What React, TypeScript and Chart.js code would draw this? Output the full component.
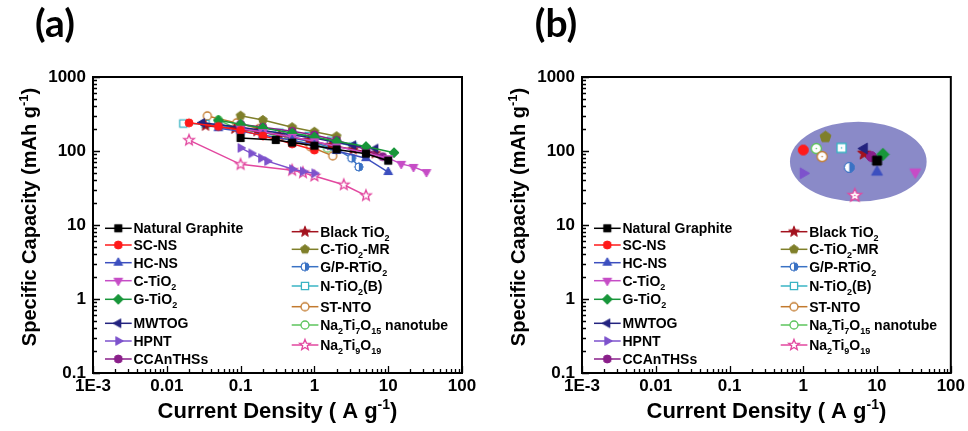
import React, { useEffect, useRef } from 'react';
import { Chart, registerables } from 'chart.js';

Chart.register(...registerables);

// ---------------- axes ----------------
const xMajorTicks = [0.001, 0.01, 0.1, 1, 10, 100];
const xTickLabels = ['1E-3', '0.01', '0.1', '1', '10', '100'];
const yMajorTicks = [0.1, 1, 10, 100, 1000];
const yTickLabels = ['0.1', '1', '10', '100', '1000'];
const xTitle = 'Current Density ( A g^{-1})';
const yTitle = 'Specific Capacity (mAh g^{-1})';
const panelTags = ['(a)', '(b)'];

// ---------------- series ----------------
const seriesLabels = [
  'Natural Graphite', 'SC-NS', 'HC-NS', 'C-TiO_{2}', 'G-TiO_{2}', 'MWTOG', 'HPNT', 'CCAnTHSs',
  'Black TiO_{2}', 'C-TiO_{2}-MR', 'G/P-RTiO_{2}', 'N-TiO_{2}(B)', 'ST-NTO',
  'Na_{2}Ti_{7}O_{15} nanotube', 'Na_{2}Ti_{9}O_{19}',
];
const seriesColors = [
  '#000000', '#ff1a1a', '#3c4fbf', '#c64cc6', '#18963a', '#23237f', '#7d52cc', '#8a1f8a',
  '#a3121e', '#7f7f2a', '#3a72c4', '#3ab4c4', '#c27a2e', '#5cc45c', '#e2479f',
];
const seriesMarkers = [
  'square', 'circle', 'triangleUp', 'triangleDown', 'diamond', 'triangleLeft', 'triangleRight', 'circle',
  'star', 'pentagon', 'halfCircle', 'square', 'circle', 'circle', 'star',
];
const seriesOpen = [
  false, false, false, false, false, false, false, false,
  false, false, false, true, true, true, true,
];

const naturalGraphiteX = [0.1, 0.3, 0.5, 1, 2, 5, 10];
const naturalGraphiteY = [150, 141, 130, 118, 105, 92, 74];
const scnsX = [0.02, 0.05, 0.1, 0.2, 0.5, 1];
const scnsY = [240, 215, 190, 160, 125, 103];
const hcnsX = [0.05, 0.1, 0.2, 0.5, 1, 2, 5, 10];
const hcnsY = [203, 185, 165, 140, 120, 100, 80, 52];
const cTiO2X = [0.1, 0.2, 0.5, 1, 2, 5, 10, 15, 22, 33];
const cTiO2Y = [200, 180, 155, 135, 115, 95, 80, 67, 61, 52];
const gTiO2X = [0.05, 0.1, 0.2, 0.5, 1, 2, 5, 12];
const gTiO2Y = [260, 230, 205, 175, 155, 135, 115, 95];
const mwtogX = [0.03, 0.1, 0.2, 0.5, 1, 2, 3.35, 6.7];
const mwtogY = [240, 210, 190, 165, 150, 130, 120, 108];
const hpntX = [0.1, 0.14, 0.19, 0.23, 0.5, 0.7, 1];
const hpntY = [110, 93, 80, 73, 57, 53, 50];
const ccanthsX = [0.1, 0.2, 0.5, 1, 2, 5, 8.4];
const ccanthsY = [230, 210, 185, 165, 140, 105, 84];
const blackTiO2X = [0.0335, 0.0835, 0.167, 0.335, 0.835, 1.67, 3.35, 6.7];
const blackTiO2Y = [220, 200, 185, 165, 140, 120, 105, 93];
const cTiO2MrX = [0.1, 0.2, 0.5, 1, 2];
const cTiO2MrY = [300, 262, 209, 182, 158];
const gpRTiO2X = [0.05, 0.1, 0.2, 0.5, 1, 2, 3.2, 4];
const gpRTiO2Y = [230, 200, 180, 150, 130, 105, 80, 61];
const nTiO2BX = [0.01675, 0.0335, 0.335, 0.8375, 1.675, 3.35];
const nTiO2BY = [235, 232, 177, 160, 138, 115];
const stntoX = [0.0354, 0.0885, 0.177, 0.354, 0.885, 1.77];
const stntoY = [298, 240, 200, 160, 114, 86];
const na2Ti7O15X = [0.05, 0.1, 0.2, 0.5, 1, 1.5];
const na2Ti7O15Y = [262, 190, 180, 138, 123, 109];
const na2Ti9O19X = [0.02, 0.1, 0.5, 0.7, 1, 2.5, 5];
const na2Ti9O19Y = [140, 66, 55, 51, 46, 35, 25];

const seriesX = [naturalGraphiteX, scnsX, hcnsX, cTiO2X, gTiO2X, mwtogX, hpntX, ccanthsX,
  blackTiO2X, cTiO2MrX, gpRTiO2X, nTiO2BX, stntoX, na2Ti7O15X, na2Ti9O19X];
const seriesY = [naturalGraphiteY, scnsY, hcnsY, cTiO2Y, gTiO2Y, mwtogY, hpntY, ccanthsY,
  blackTiO2Y, cTiO2MrY, gpRTiO2Y, nTiO2BY, stntoY, na2Ti7O15Y, na2Ti9O19Y];

// panel (b): one summary point per material
const bestX = [10, 1, 10, 33, 12, 6.7, 1, 8.4, 6.7, 2, 4.2, 3.3, 1.8, 1.5, 5];
const bestY = [74, 103, 52, 52, 90, 108, 50, 84, 93, 155, 60, 110, 84, 108, 25];

// highlighted region in panel (b)
const ellipseX = [0.66, 47];
const ellipseY = [20.7, 249];
const ellipseColor = 'rgb(138,138,200)';

// ---------------- helpers ----------------
const FONT = '"Liberation Sans", Arial, sans-serif';

type Seg = { t: string; m: 'n' | 'sub' | 'sup'; w?: number };
function parseRich(s: string): Seg[] {
  const segs: Seg[] = [];
  const re = /([_^])\{([^}]*)\}/g;
  let last = 0;
  let m: RegExpExecArray | null;
  while ((m = re.exec(s))) {
    if (m.index > last) segs.push({ t: s.slice(last, m.index), m: 'n' });
    segs.push({ t: m[2], m: m[1] === '_' ? 'sub' : 'sup' });
    last = re.lastIndex;
  }
  if (last < s.length) segs.push({ t: s.slice(last), m: 'n' });
  return segs;
}
const plain = (s: string) => s.replace(/[_^]\{([^}]*)\}/g, '$1');

function drawRich(ctx: CanvasRenderingContext2D, text: string, x: number, y: number, size: number, align: 'left' | 'center') {
  const segs = parseRich(text);
  const small = Math.round(size * 0.64);
  let w = 0;
  for (const s of segs) {
    ctx.font = `bold ${s.m === 'n' ? size : small}px ${FONT}`;
    s.w = ctx.measureText(s.t).width;
    w += s.w;
  }
  let cx = align === 'center' ? x - w / 2 : x;
  ctx.textAlign = 'left';
  ctx.textBaseline = 'alphabetic';
  for (const s of segs) {
    ctx.font = `bold ${s.m === 'n' ? size : small}px ${FONT}`;
    const dy = s.m === 'sub' ? size * 0.28 : s.m === 'sup' ? -size * 0.4 : 0;
    ctx.fillText(s.t, cx, y + dy);
    cx += s.w || 0;
  }
}

function makeMarker(kind: string, r: number, color: string, open: boolean, dot: boolean): HTMLCanvasElement {
  const size = Math.ceil(r * 3 + 4);
  const c = document.createElement('canvas');
  c.width = size;
  c.height = size;
  const ctx = c.getContext('2d')!;
  const cx = size / 2;
  const cy = size / 2;
  const poly = (n: number, rad: number, rotDeg: number) => {
    for (let k = 0; k < n; k++) {
      const a = (rotDeg + (360 / n) * k) * Math.PI / 180;
      const px = cx + rad * Math.cos(a);
      const py = cy + rad * Math.sin(a);
      if (k === 0) ctx.moveTo(px, py); else ctx.lineTo(px, py);
    }
    ctx.closePath();
  };
  const star = (ro: number, ri: number) => {
    for (let k = 0; k < 10; k++) {
      const a = (-90 + 36 * k) * Math.PI / 180;
      const rad = k % 2 === 0 ? ro : ri;
      const px = cx + rad * Math.cos(a);
      const py = cy + rad * Math.sin(a);
      if (k === 0) ctx.moveTo(px, py); else ctx.lineTo(px, py);
    }
    ctx.closePath();
  };
  ctx.lineWidth = open ? 1.3 : 1;
  ctx.strokeStyle = color;
  ctx.fillStyle = open ? '#ffffff' : color;
  ctx.beginPath();
  switch (kind) {
    case 'square': ctx.rect(cx - 0.9 * r, cy - 0.9 * r, 1.8 * r, 1.8 * r); break;
    case 'circle': ctx.arc(cx, cy, r, 0, Math.PI * 2); break;
    case 'triangleUp': poly(3, 1.25 * r, -90); break;
    case 'triangleDown': poly(3, 1.25 * r, 90); break;
    case 'triangleLeft': poly(3, 1.25 * r, 180); break;
    case 'triangleRight': poly(3, 1.25 * r, 0); break;
    case 'diamond': poly(4, 1.25 * r, -90); break;
    case 'pentagon': poly(5, 1.15 * r, -90); break;
    case 'star': star(1.4 * r, 0.6 * r); break;
    case 'halfCircle': ctx.arc(cx, cy, r, 0, Math.PI * 2); ctx.fillStyle = '#ffffff'; break;
  }
  ctx.fill();
  ctx.stroke();
  if (kind === 'halfCircle') {
    ctx.beginPath();
    ctx.arc(cx, cy, r, -Math.PI / 2, Math.PI / 2);
    ctx.closePath();
    ctx.fillStyle = color;
    ctx.fill();
    ctx.beginPath();
    ctx.arc(cx, cy, r, 0, Math.PI * 2);
    ctx.stroke();
  }
  if (open && dot) {
    ctx.beginPath();
    ctx.arc(cx, cy, 0.8, 0, Math.PI * 2);
    ctx.fillStyle = color;
    ctx.fill();
  }
  return c;
}

function logTicks(majors: number[]) {
  const out: { value: number; major: boolean }[] = [];
  for (let i = 0; i < majors.length; i++) {
    out.push({ value: majors[i], major: true });
    if (i < majors.length - 1) {
      for (let k = 2; k <= 9; k++) out.push({ value: +(majors[i] * k).toPrecision(6), major: false });
    }
  }
  return out;
}
function labelFor(v: number, majors: number[], labels: string[]) {
  const idx = majors.findIndex((m) => Math.abs(m - v) / m < 1e-6);
  return idx >= 0 ? labels[idx] : '';
}

// legend layout (offsets from the plot area's top-left corner)
const legendLeftRows = [151.3, 168, 185.7, 203.7, 222.3, 246.3, 264, 282];
const legendRightRows = [154.7, 172.3, 189.7, 209, 229.7, 248, 268];

function makeConfig(panel: number): any {
  const isA = panel === 0;
  const r = isA ? 4 : 5;
  const plotMarkers = seriesLabels.map((_, i) => makeMarker(seriesMarkers[i], r, seriesColors[i], seriesOpen[i], !isA));
  const legendMarkers = seriesLabels.map((_, i) => makeMarker(seriesMarkers[i], 4, seriesColors[i], seriesOpen[i], false));

  const datasets = seriesLabels.map((lab, i) => ({
    label: plain(lab),
    data: isA
      ? seriesX[i].map((x, j) => ({ x, y: seriesY[i][j] }))
      : [{ x: bestX[i], y: bestY[i] }],
    borderColor: seriesColors[i],
    backgroundColor: seriesColors[i],
    borderWidth: 1.5,
    pointStyle: plotMarkers[i],
    pointRadius: r,
    pointHoverRadius: r,
    showLine: isA,
    tension: 0,
  }));

  const deco = {
    id: 'deco',
    beforeDatasetsDraw(chart: any) {
      if (isA) return;
      const { x, y } = chart.scales;
      const ctx = chart.ctx as CanvasRenderingContext2D;
      const x1 = x.getPixelForValue(ellipseX[0]);
      const x2 = x.getPixelForValue(ellipseX[1]);
      const y1 = y.getPixelForValue(ellipseY[0]);
      const y2 = y.getPixelForValue(ellipseY[1]);
      ctx.save();
      ctx.fillStyle = ellipseColor;
      ctx.beginPath();
      ctx.ellipse((x1 + x2) / 2, (y1 + y2) / 2, Math.abs(x2 - x1) / 2, Math.abs(y1 - y2) / 2, 0, 0, Math.PI * 2);
      ctx.fill();
      ctx.restore();
    },
    afterDraw(chart: any) {
      const ctx = chart.ctx as CanvasRenderingContext2D;
      const area = chart.chartArea;
      const { x, y } = chart.scales;
      ctx.save();
      // inward tick marks
      ctx.strokeStyle = '#000';
      ctx.lineWidth = 1.3;
      ctx.beginPath();
      for (const t of x.ticks) {
        const px = Math.round(x.getPixelForValue(t.value)) + 0.5;
        const len = t.major ? 7 : 4;
        ctx.moveTo(px, area.bottom);
        ctx.lineTo(px, area.bottom - len);
      }
      for (const t of y.ticks) {
        const py = Math.round(y.getPixelForValue(t.value)) + 0.5;
        const len = t.major ? 7 : 4;
        ctx.moveTo(area.left, py);
        ctx.lineTo(area.left + len, py);
      }
      ctx.stroke();
      // frame
      ctx.lineWidth = 2;
      ctx.strokeRect(area.left, area.top, area.right - area.left, area.bottom - area.top);

      // legend
      seriesLabels.forEach((lab, i) => {
        const right = i >= 8;
        const row = right ? legendRightRows[i - 8] : legendLeftRows[i];
        const ly = area.top + row;
        const lx0 = area.left + (right ? 198.7 : 12);
        ctx.strokeStyle = seriesColors[i];
        ctx.lineWidth = 1.5;
        ctx.beginPath();
        ctx.moveTo(lx0, ly);
        ctx.lineTo(lx0 + 26.7, ly);
        ctx.stroke();
        const mk = legendMarkers[i];
        ctx.drawImage(mk, lx0 + 13.3 - mk.width / 2, ly - mk.height / 2);
        ctx.fillStyle = '#000';
        drawRich(ctx, lab, lx0 + 28.5, ly + 5, 14, 'left');
      });

      // axis titles
      ctx.fillStyle = '#000';
      drawRich(ctx, xTitle, (area.left + area.right) / 2, 418, 22, 'center');
      ctx.save();
      ctx.translate(area.left - 64, 217);
      ctx.rotate(-Math.PI / 2);
      drawRich(ctx, yTitle, 0, 7, 20, 'center');
      ctx.restore();

      // panel tag
      ctx.font = `bold 39px Lato, ${FONT}`;
      ctx.textAlign = 'center';
      ctx.textBaseline = 'middle';
      ctx.fillText(panelTags[panel], area.left - (isA ? 38 : 26), 24);
      ctx.restore();
    },
  };

  const tickFont = { family: FONT, size: 17, weight: 'bold' as const };

  return {
    type: 'scatter',
    data: { datasets },
    options: {
      responsive: false,
      animation: false,
      events: [],
      layout: { padding: { left: 0, top: 77, right: isA ? 22 : 17, bottom: 0 } },
      plugins: { legend: { display: false }, tooltip: { enabled: false }, title: { display: false } },
      scales: {
        x: {
          type: 'logarithmic',
          min: 0.001,
          max: 100,
          position: 'bottom',
          afterBuildTicks: (s: any) => { s.ticks = logTicks(xMajorTicks); },
          afterFit: (s: any) => { s.height = 58; },
          grid: { display: false, drawTicks: false },
          border: { display: false },
          ticks: {
            autoSkip: false, maxRotation: 0, minRotation: 0, padding: 3,
            color: '#000', font: tickFont,
            callback: (v: number) => labelFor(v, xMajorTicks, xTickLabels),
          },
        },
        y: {
          type: 'logarithmic',
          min: 0.1,
          max: 1000,
          position: 'left',
          afterBuildTicks: (s: any) => { s.ticks = logTicks(yMajorTicks); },
          afterFit: (s: any) => { s.width = isA ? 93 : 98; },
          grid: { display: false, drawTicks: false },
          border: { display: false },
          ticks: {
            autoSkip: false, padding: 7,
            color: '#000', font: tickFont,
            callback: (v: number) => labelFor(v, yMajorTicks, yTickLabels),
          },
        },
      },
    },
    plugins: [deco],
  };
}

export default function App() {
  const refA = useRef<HTMLCanvasElement>(null);
  const refB = useRef<HTMLCanvasElement>(null);
  useEffect(() => {
    const ca = new Chart(refA.current as HTMLCanvasElement, makeConfig(0));
    const cb = new Chart(refB.current as HTMLCanvasElement, makeConfig(1));
    return () => {
      ca.destroy();
      cb.destroy();
    };
  }, []);
  return (
    <div style={{ position: 'fixed', left: 0, top: 0, width: 968, height: 431, background: '#fff', display: 'flex' }}>
      <canvas ref={refA} width={484} height={431} style={{ display: 'block', width: 484, height: 431 }} />
      <canvas ref={refB} width={484} height={431} style={{ display: 'block', width: 484, height: 431 }} />
    </div>
  );
}
